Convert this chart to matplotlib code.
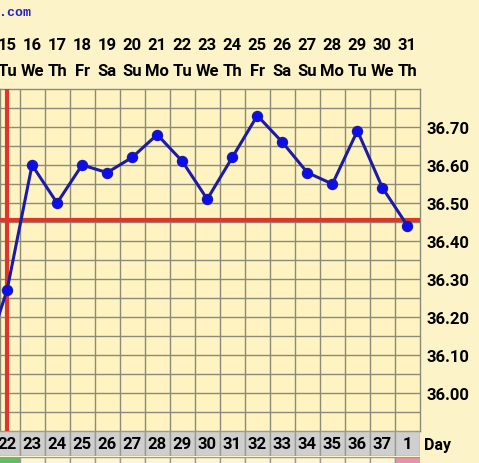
import numpy as np
import matplotlib
matplotlib.use("Agg")
import matplotlib.pyplot as plt
from matplotlib import transforms

# chart data
dates = [15, 16, 17, 18, 19, 20, 21, 22, 23, 24, 25, 26, 27, 28, 29, 30, 31]
weekdays = ["Tu", "We", "Th", "Fr", "Sa", "Su", "Mo", "Tu", "We", "Th",
            "Fr", "Sa", "Su", "Mo", "Tu", "We", "Th"]
cycle_days = [22, 23, 24, 25, 26, 27, 28, 29, 30, 31, 32, 33, 34, 35, 36, 37, 1]
temps = [36.27, 36.60, 36.50, 36.60, 36.58, 36.62, 36.68, 36.61, 36.51, 36.62,
         36.73, 36.66, 36.58, 36.55, 36.69, 36.54, 36.44]
prev_temp = 36.07   # day before, off the left edge
coverline = 36.455
temp_ticks = [36.00, 36.10, 36.20, 36.30, 36.40, 36.50, 36.60, 36.70]
row3_colors = ["#62bd62"] + ["#fdf5d6"] * 15 + ["#ea93a8"]

W, H = 479, 464
BG = "#fcf3c9"
CELL = "#fef3c1"
GRID = "#8c8a78"
FONT = "Roboto"

fig = plt.figure(figsize=(W / 100, H / 100), dpi=100, facecolor=BG)


def px_axes(left, top, right, bottom):
    return fig.add_axes([left / W, (H - bottom) / H, (right - left) / W, (bottom - top) / H])


xlim = (-0.28, 16.5)

# main temperature grid
ax = px_axes(0, 90, 420, 432)
ax.set_facecolor(CELL)
ax.set_xlim(*xlim)
ax.set_ylim(35.90, 36.80)
ax.set_xticks(np.arange(0.5, 16, 1), minor=True)
ax.set_xticks([])
ax.set_yticks(np.arange(35.95, 36.80, 0.05), minor=True)
ax.set_yticks(temp_ticks)
ax.set_yticklabels(["%.2f" % t for t in temp_ticks], fontfamily=FONT,
                   fontweight="bold", fontsize=12)
ax.yaxis.tick_right()
ax.tick_params(which="both", length=0, pad=4.5)
ax.grid(which="both", color=GRID, lw=1.0)
for s in ax.spines.values():
    s.set_color(GRID)
    s.set_linewidth(1.0)

ax.axvline(0, color="#e0352b", lw=3, zorder=3)
ax.axhline(coverline, color="#e0352b", lw=3, zorder=3)

xs = np.arange(-1, len(temps))
ys = [prev_temp] + temps
ax.plot(xs, ys, color="#1b1ba6", lw=2.2, zorder=4)
ax.plot(xs, ys, "o", ms=7.2, mfc="#0c0cf0", mec="#1a1aa8", mew=1.0, zorder=5)

# date and weekday header
hdr = transforms.blended_transform_factory(ax.transData, fig.transFigure)
for i, (d, w) in enumerate(zip(dates, weekdays)):
    fig.text(i, (H - 46) / H, str(d), transform=hdr, ha="center", va="center",
             fontfamily=FONT, fontweight="bold", fontsize=12)
    fig.text(i, (H - 71) / H, w, transform=hdr, ha="center", va="center",
             fontfamily=FONT, fontweight="bold", fontsize=12)

fig.text(-1 / W, (H - 13) / H, ".com", ha="left", va="center", color="#2323c8",
         fontfamily="Liberation Mono", fontweight="bold", fontsize=9.5)

# cycle day row
ax2 = px_axes(0, 432, 420, 457)
ax2.set_xlim(*xlim)
ax2.set_ylim(0, 1)
ax2.bar(range(len(cycle_days)), 1, width=1, color="#cfcfcf", edgecolor="#9a9a92", lw=1.0)
for i, c in enumerate(cycle_days):
    ax2.text(i, 0.5, str(c), ha="center", va="center", fontfamily=FONT,
             fontweight="bold", fontsize=12)
ax2.axis("off")
fig.text(424 / W, (H - 446) / H, "Day", ha="left", va="center", fontfamily=FONT,
         fontweight="bold", fontsize=11.5)

# next row, only its top edge is visible
ax3 = px_axes(0, 458, 420, 484)
ax3.set_xlim(*xlim)
ax3.set_ylim(0, 1)
ax3.bar(range(len(row3_colors)), 1, width=1, color=row3_colors, edgecolor="#9a9a92", lw=1.0)
ax3.axis("off")

fig.savefig("out.png", dpi=100, facecolor=BG)
